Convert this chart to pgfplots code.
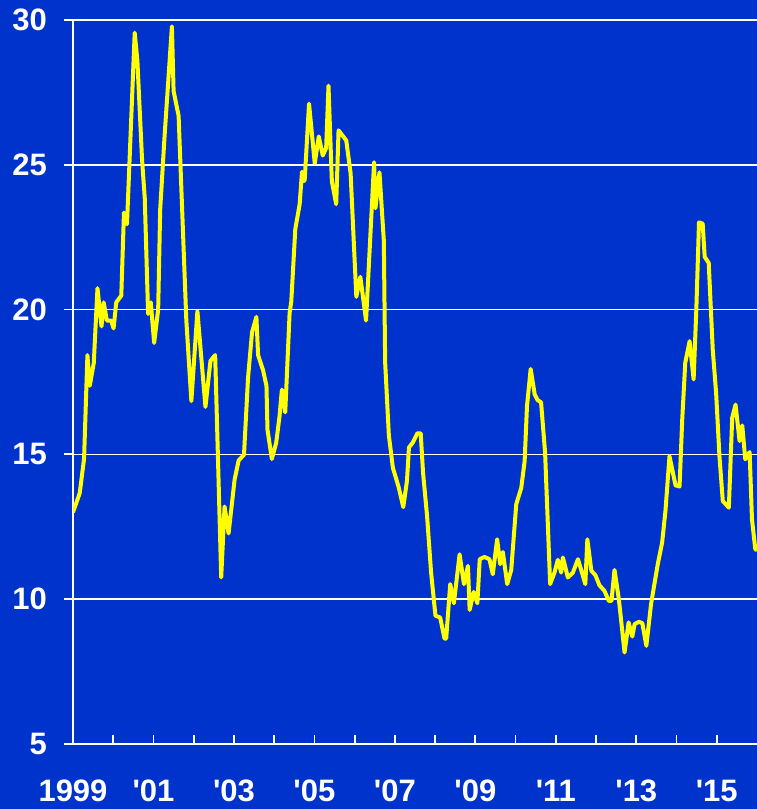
\documentclass[border=0pt]{standalone}
\usepackage{fontspec}
\setmainfont{Liberation Sans}
\usepackage{pgfplots}
\pgfplotsset{compat=1.18}
\usepackage{pgfplotstable}
\definecolor{bgblue}{HTML}{0033CC}
\definecolor{lineyellow}{HTML}{FFFF00}
\pgfplotstableread{
m v
0 13.0
2.0 13.66
3.3 14.85
4.3 18.43
5.0 17.37
6.2 18.16
7.3 20.74
8.5 19.42
9.15 20.25
10.1 19.62
11.4 19.62
12.1 19.35
12.9 20.25
14.4 20.48
15.2 23.35
16.1 22.95
18.4 29.56
19.2 28.6
20.6 25.17
21.4 23.85
22.4 19.85
23.2 20.25
24.2 18.85
25.4 20.0
26.0 23.45
27.3 25.97
29.5 29.78
30.0 27.55
31.5 26.69
33.8 19.62
35.3 16.84
37.1 19.95
39.5 16.64
41.0 18.23
42.4 18.43
44.2 10.75
45.2 13.2
46.4 12.27
48.2 14.13
49.4 14.79
51.0 14.99
52.2 17.64
53.4 19.22
54.7 19.75
55.2 18.43
56.7 17.9
57.7 17.37
58.0 15.86
59.3 14.84
60.6 15.4
61.6 16.32
62.3 17.24
63.3 16.45
64.6 19.88
65.1 20.28
66.3 22.78
67.6 23.64
68.3 24.76
68.7 24.43
69.1 24.47
70.4 27.11
72.1 25.05
73.3 25.98
74.5 25.32
75.5 25.58
76.2 27.73
77.2 24.43
78.5 23.64
79.2 26.19
81.5 25.84
82.8 24.7
84.5 20.44
85.7 21.13
87.4 19.62
89.8 25.09
90.2 23.5
91.4 24.74
92.7 22.39
93.1 18.17
94.2 15.66
95.4 14.54
97.1 13.88
98.5 13.18
99.6 14.08
100.2 15.24
101.4 15.42
102.7 15.73
103.7 15.73
104.4 14.37
105.6 12.87
106.8 10.92
108.1 9.43
109.5 9.37
110.8 8.64
111.3 8.64
112.5 10.52
113.6 9.86
115.3 11.55
116.6 10.52
117.8 11.15
118.3 9.63
119.5 10.25
120.6 9.86
121.3 11.38
122.7 11.46
124.2 11.38
125.2 10.86
126.5 12.07
127.4 11.21
128.2 11.63
129.5 10.52
130.7 11.01
132.2 13.28
133.7 13.85
134.7 14.77
135.4 16.67
136.5 17.95
137.7 17.07
138.6 16.87
139.6 16.8
140.8 15.06
142.3 10.52
143.6 10.92
144.6 11.36
145.6 10.92
146.1 11.44
147.6 10.75
149.1 10.92
150.6 11.38
151.8 10.92
152.8 10.52
153.4 12.07
154.6 10.98
155.8 10.83
157.0 10.48
158.5 10.29
159.8 9.94
160.6 9.94
161.5 11.01
162.8 10.0
164.5 8.16
165.7 9.2
166.8 8.71
167.5 9.14
168.8 9.22
169.8 9.17
171.0 8.39
172.4 9.83
174.4 11.21
175.7 11.95
176.7 13.05
177.9 14.94
179.7 13.93
180.9 13.89
181.7 16.21
182.6 18.16
183.9 18.91
185.1 17.59
185.9 20.0
186.7 23.01
187.8 22.97
188.4 21.82
189.6 21.61
190.8 18.62
191.8 17.13
192.8 14.94
193.8 13.39
195.6 13.16
196.6 16.26
197.6 16.72
198.8 15.46
199.6 16.0
200.5 14.83
201.8 15.08
202.5 12.76
203.5 11.72
204.0 11.7
}\datatable
\begin{document}
\begin{tikzpicture}
\fill[bgblue] (0,0) rectangle (757bp,809bp);
\begin{axis}[
  at={(73bp,65bp)}, anchor=south west,
  scale only axis, width=684bp, height=724bp,
  xmin=0, xmax=204, ymin=5, ymax=30,
  axis x line*=bottom, axis y line*=left,
  axis line style={white, line width=1.8bp, -},
  xtick={0,12,...,192},
  xticklabels={1999,,\textquotesingle01,,\textquotesingle03,,\textquotesingle05,,\textquotesingle07,,\textquotesingle09,,\textquotesingle11,,\textquotesingle13,,\textquotesingle15},
  ytick={5,10,...,30},
  ymajorgrids,
  grid style={white, line width=1.6bp},
  xtick align=inside, ytick align=outside,
  major tick length=9bp,
  tick style={white, line width=1.8bp},
  /pgf/number format/assume math mode=true,
  yticklabel style={font=\fontsize{31bp}{31bp}\selectfont\bfseries, text=white, anchor=east, inner sep=0pt, xshift=-17bp},
  xticklabel style={font=\fontsize{31bp}{31bp}\selectfont\bfseries, text=white, anchor=north, inner sep=0pt, yshift=-36bp},
  clip=true,
]
\addplot[lineyellow, line width=4bp, line join=round, mark=none] table[x=m,y=v]{\datatable};
\end{axis}
\pgfresetboundingbox
\useasboundingbox (0,0) rectangle (757bp,809bp);
\end{tikzpicture}
\end{document}
